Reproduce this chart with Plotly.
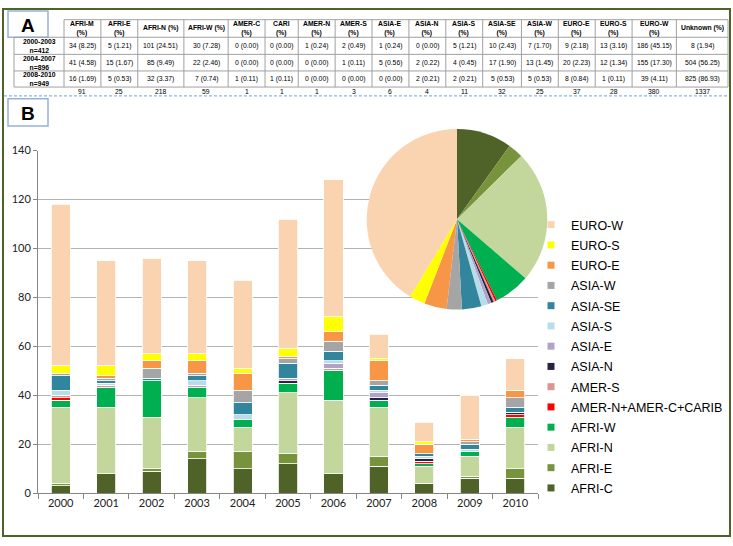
import plotly.graph_objects as go

W, H = 733, 546

# ---------------- data: panel B (stacked bars per year) ----------------
years = ["2000", "2001", "2002", "2003", "2004", "2005", "2006", "2007", "2008", "2009", "2010"]
regions = ["AFRI-C", "AFRI-E", "AFRI-N", "AFRI-W", "AMER-N+AMER-C+CARIB", "AMER-S",
           "ASIA-N", "ASIA-E", "ASIA-S", "ASIA-SE", "ASIA-W", "EURO-E", "EURO-S", "EURO-W"]
afri_c = [3, 8, 9, 14, 10, 12, 8, 11, 4, 6, 6]
afri_e = [1, 0, 1, 3, 7, 4, 0, 4, 0, 1, 4]
afri_n = [31, 27, 21, 22, 10, 25, 30, 20, 7, 8, 17]
afri_w = [3, 8, 15, 4, 3, 4, 12, 3, 1, 2, 4]
amer_ncc = [1, 0, 0, 0, 0, 0, 0, 0, 1, 0, 1]
amer_s = [1, 1, 0, 0, 0, 0, 1, 0, 0, 0, 0]
asia_n = [0, 0, 0, 0, 0, 1, 0, 1, 1, 0, 1]
asia_e = [0, 0, 0, 1, 0, 1, 2, 2, 0, 0, 0]
asia_s = [2, 1, 0, 2, 2, 0, 1, 1, 1, 1, 0]
asia_se = [6, 1, 1, 2, 5, 6, 4, 2, 1, 2, 2]
asia_w = [1, 1, 4, 1, 5, 2, 4, 2, 0, 1, 4]
euro_e = [0, 1, 3, 5, 7, 1, 4, 8, 4, 1, 3]
euro_s = [3, 4, 3, 3, 2, 3, 6, 1, 1, 0, 0]
euro_w = [66, 43, 39, 38, 36, 53, 56, 10, 8, 18, 13]
series = [afri_c, afri_e, afri_n, afri_w, amer_ncc, amer_s, asia_n, asia_e,
          asia_s, asia_se, asia_w, euro_e, euro_s, euro_w]
y_ticks = [0, 20, 40, 60, 80, 100, 120, 140]

# ---------------- data: panel A (table) ----------------
table_cols = ["AFRI-M<br>(%)", "AFRI-E<br>(%)", "AFRI-N (%)", "AFRI-W (%)", "AMER-C<br>(%)",
              "CARI<br>(%)", "AMER-N<br>(%)", "AMER-S<br>(%)", "ASIA-E<br>(%)", "ASIA-N<br>(%)",
              "ASIA-S<br>(%)", "ASIA-SE<br>(%)", "ASIA-W<br>(%)", "EURO-E<br>(%)", "EURO-S<br>(%)",
              "EURO-W<br>(%)", "Unknown (%)"]
periods = ["2000-2003<br>n=412", "2004-2007<br>n=896", "2008-2010<br>n=949"]
counts_p1 = [34, 5, 101, 30, 0, 0, 1, 2, 1, 0, 5, 10, 7, 9, 13, 186, 8]
pct_p1 = [8.25, 1.21, 24.51, 7.28, 0.00, 0.00, 0.24, 0.49, 0.24, 0.00, 1.21, 2.43, 1.70, 2.18, 3.16, 45.15, 1.94]
counts_p2 = [41, 15, 85, 22, 0, 0, 0, 1, 5, 2, 4, 17, 13, 20, 12, 155, 504]
pct_p2 = [4.58, 1.67, 9.49, 2.46, 0.00, 0.00, 0.00, 0.11, 0.56, 0.22, 0.45, 1.90, 1.45, 2.23, 1.34, 17.30, 56.25]
counts_p3 = [16, 5, 32, 7, 1, 1, 0, 0, 0, 2, 2, 5, 5, 8, 1, 39, 825]
pct_p3 = [1.69, 0.53, 3.37, 0.74, 0.11, 0.11, 0.00, 0.00, 0.00, 0.21, 0.21, 0.53, 0.53, 0.84, 0.11, 4.11, 86.93]
col_totals = [91, 25, 218, 59, 1, 1, 1, 3, 6, 4, 11, 32, 25, 37, 28, 380, 1337]

# ---------------- styles ----------------
colors = {
    "AFRI-C": "#4F6228", "AFRI-E": "#77933C", "AFRI-N": "#C3D69B", "AFRI-W": "#00B050",
    "AMER-N+AMER-C+CARIB": "#FF0000", "AMER-S": "#D99694", "ASIA-N": "#272142",
    "ASIA-E": "#B3A2C7", "ASIA-S": "#B7DEE8", "ASIA-SE": "#31859C", "ASIA-W": "#A5A5A5",
    "EURO-E": "#F79646", "EURO-S": "#FFFF00", "EURO-W": "#FAD3B1",
}
FONT = "Liberation Sans"


def px(xp):
    return xp / W


def py(yp):
    return 1 - yp / H


def note(x, y, text, size, **kw):
    return dict(xref="paper", yref="paper", x=px(x), y=py(y), text=text, showarrow=False,
                xanchor="center", yanchor="middle", font=dict(family=FONT, size=size, color="black"), **kw)


fig = go.Figure()

# stacked bars
for name, vals in zip(regions, series):
    fig.add_trace(go.Bar(x=years, y=vals, name=name, marker=dict(color=colors[name],
                         line=dict(color="white", width=0.8)), showlegend=False))

# pie of totals
pie_vals = [sum(v) for v in series]
fig.add_trace(go.Pie(labels=regions, values=pie_vals, sort=False, direction="clockwise",
                     rotation=0, textinfo="none", showlegend=False,
                     marker=dict(colors=[colors[r] for r in regions], line=dict(width=0)),
                     domain=dict(x=[px(365), px(549)], y=[py(310), py(125)])))

# legend entries (small squares), top = EURO-W
for name in reversed(regions):
    fig.add_trace(go.Scatter(x=[None], y=[None], mode="markers", name=name, legendgroup=name,
                             marker=dict(symbol="square", size=7, color=colors[name])))

shapes = []
annotations = []

# outer frame
shapes.append(dict(type="rect", xref="paper", yref="paper", x0=px(3), x1=px(730), y0=py(542), y1=py(2),
                   line=dict(color="#4F6228", width=2)))
# dashed separator
shapes.append(dict(type="line", xref="paper", yref="paper", x0=px(4), x1=px(729), y0=py(91), y1=py(91),
                   line=dict(color="#8EB4E3", width=1.3, dash="3px,2px")))
# panel letters
for letter, (y0, y1) in (("A", (4, 31)), ("B", (94, 122))):
    shapes.append(dict(type="rect", xref="paper", yref="paper", x0=px(8), x1=px(48), y0=py(y1), y1=py(y0),
                       line=dict(color="#95B3D7", width=1.5), fillcolor="white"))
    annotations.append(note(28, (y0 + y1) / 2 + 1, "<b>%s</b>" % letter, 19))

# table geometry
col_w = [1, 1, 1.25, 1.2, 1, 0.9, 1, 1, 1, 1, 1, 1.05, 1, 1, 1, 1.2, 1.4]
lab_x0, data_x0, data_x1 = 14, 64, 728
unit = (data_x1 - data_x0) / sum(col_w)
edges = [data_x0]
for w in col_w:
    edges.append(edges[-1] + w * unit)
row_edges = [13, 31, 48.5, 65.5, 82]
tot_y = 86.5
gcol = "#A0A0A0"
shapes.append(dict(type="line", xref="paper", yref="paper", x0=px(data_x0), x1=px(data_x1),
                   y0=py(row_edges[0]), y1=py(row_edges[0]), line=dict(color=gcol, width=1)))
for ry in row_edges[1:]:
    shapes.append(dict(type="line", xref="paper", yref="paper", x0=px(lab_x0), x1=px(data_x1),
                       y0=py(ry), y1=py(ry), line=dict(color=gcol, width=1)))
shapes.append(dict(type="line", xref="paper", yref="paper", x0=px(lab_x0), x1=px(lab_x0),
                   y0=py(row_edges[-1]), y1=py(row_edges[1]), line=dict(color=gcol, width=1)))
for ex in edges:
    shapes.append(dict(type="line", xref="paper", yref="paper", x0=px(ex), x1=px(ex),
                       y0=py(row_edges[-1]), y1=py(row_edges[0]), line=dict(color=gcol, width=1)))

tfs = 6.8
for i, name in enumerate(table_cols):
    cx = (edges[i] + edges[i + 1]) / 2
    annotations.append(note(cx, (row_edges[0] + row_edges[1]) / 2, "<b>%s</b>" % name, tfs))
    for r, (cnts, pcts) in enumerate(((counts_p1, pct_p1), (counts_p2, pct_p2), (counts_p3, pct_p3))):
        annotations.append(note(cx, (row_edges[r + 1] + row_edges[r + 2]) / 2,
                                "%d (%.2f)" % (cnts[i], pcts[i]), tfs))
    annotations.append(note(cx, tot_y, str(col_totals[i]), tfs))
for r, lab in enumerate(periods):
    annotations.append(note((lab_x0 + data_x0) / 2, (row_edges[r + 1] + row_edges[r + 2]) / 2,
                            "<b>%s</b>" % lab, tfs))

axis_col = "#868686"
fig.update_layout(
    width=W, height=H, margin=dict(l=0, r=0, t=0, b=0),
    paper_bgcolor="white", plot_bgcolor="white",
    barmode="stack", bargap=0.58,
    font=dict(family=FONT, color="black"),
    xaxis=dict(domain=[px(38), px(538)], type="category", showline=True, linecolor=axis_col,
               ticks="outside", tickson="boundaries", ticklen=5, tickcolor=axis_col,
               tickfont=dict(family="Lato", size=11, color="#222"), showgrid=False, fixedrange=True),
    yaxis=dict(domain=[py(498), py(147)], range=[0, 140], tickvals=y_ticks, showline=True,
               linecolor=axis_col, ticks="outside", ticklen=4, tickcolor=axis_col,
               gridcolor="#B3B3B3", gridwidth=1, zeroline=False,
               tickfont=dict(family="Lato", size=11, color="#222"), fixedrange=True),
    legend=dict(x=px(531), y=py(208), xanchor="left", yanchor="top", bgcolor="rgba(0,0,0,0)",
                font=dict(family=FONT, size=12.5, color="black"), tracegroupgap=1,
                itemclick=False, itemdoubleclick=False),
    shapes=shapes, annotations=annotations,
)

fig.write_html("out.html", config={"displayModeBar": False},
               post_script="document.body.style.margin='0';document.body.style.overflow='hidden';")
